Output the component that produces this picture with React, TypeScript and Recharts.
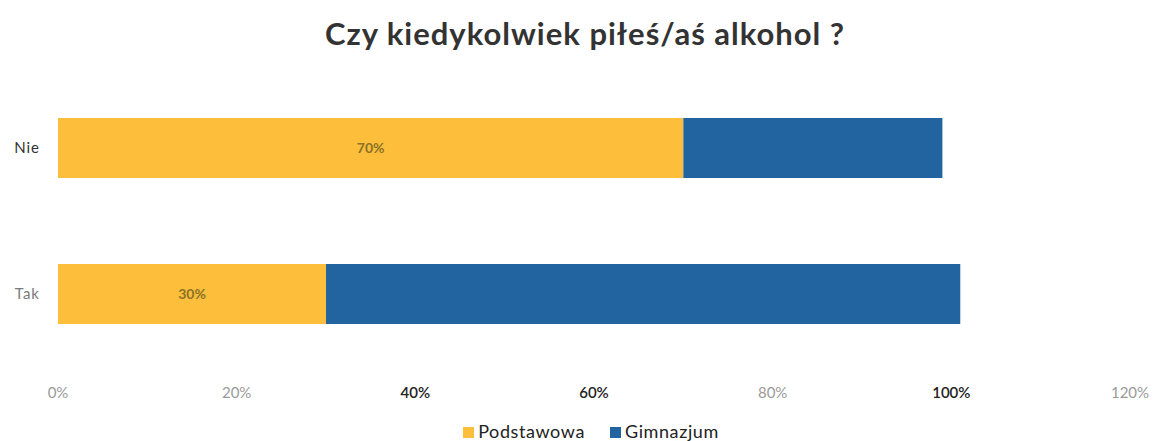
import { BarChart, Bar, XAxis, YAxis, Legend, LabelList } from "recharts"

const categories = ["Nie", "Tak"]
const podstawowa = [70, 30]
const gimnazjum = [29, 71]
const xTicks = [0, 20, 40, 60, 80, 100, 120]

const seriesNames = ["Podstawowa", "Gimnazjum"]
const seriesColors = ["#FDBE3B", "#22649F"]

// the scan renders some tick labels darker than others
const darkXTicks = [40, 60, 100]
const darkYTicks = ["Nie"]

const data = categories.map((name, i) => ({
  name,
  Podstawowa: podstawowa[i],
  Gimnazjum: gimnazjum[i],
}))

const FONT = "Lato, 'Open Sans', sans-serif"

function XTick(props: any) {
  const { x, y, payload } = props
  const dark = darkXTicks.includes(payload.value)
  return (
    <text
      x={x}
      y={y}
      dy={23}
      textAnchor="middle"
      fontFamily={FONT}
      fontSize={15}
      fontWeight={dark ? 600 : 400}
      fill={dark ? "#222" : "#9a9a9a"}
    >
      {`${payload.value}%`}
    </text>
  )
}

function YTick(props: any) {
  const { x, y, payload } = props
  const dark = darkYTicks.includes(payload.value)
  return (
    <text
      x={x}
      y={y}
      dx={-10}
      dy={5}
      textAnchor="end"
      fontFamily={FONT}
      fontSize={15}
      letterSpacing={1}
      fill={dark ? "#333" : "#7a7a7a"}
    >
      {payload.value}
    </text>
  )
}

function LegendContent() {
  return (
    <div style={{ display: "flex", justifyContent: "center", gap: 25, paddingLeft: 52 }}>
      {seriesNames.map((name, i) => (
        <div
          key={name}
          style={{ display: "flex", alignItems: "center", fontSize: 18, letterSpacing: 0.6, color: "#222" }}
        >
          <span
            style={{
              display: "inline-block",
              width: 11,
              height: 11,
              marginRight: 4,
              marginTop: 3,
              background: seriesColors[i],
            }}
          />
          {name}
        </div>
      ))}
    </div>
  )
}

export default function App() {
  return (
    <div
      style={{
        position: "absolute",
        left: 0,
        top: 0,
        width: 1158,
        height: 441,
        background: "#fff",
        fontFamily: FONT,
      }}
    >
      <div
        style={{
          position: "absolute",
          top: 14,
          left: 0,
          width: 1170,
          textAlign: "center",
          fontSize: 31,
          fontWeight: 700,
          letterSpacing: 1,
          color: "#333",
        }}
      >
        Czy kiedykolwiek piłeś/aś alkohol ?
      </div>
      <BarChart
        width={1158}
        height={441}
        data={data}
        layout="vertical"
        margin={{ top: 75, right: 28, left: 0, bottom: 0 }}
        barSize={60}
      >
        <XAxis
          type="number"
          domain={[0, 120]}
          ticks={xTicks}
          axisLine={false}
          tickLine={false}
          height={30}
          tick={<XTick />}
          interval={0}
        />
        <YAxis
          type="category"
          dataKey="name"
          width={58}
          axisLine={false}
          tickLine={false}
          tick={<YTick />}
        />
        <Legend
          verticalAlign="bottom"
          align="center"
          content={<LegendContent />}
          wrapperStyle={{ height: 44, boxSizing: "border-box", paddingTop: 23 }}
        />
        <Bar dataKey="Podstawowa" stackId="a" fill={seriesColors[0]} isAnimationActive={false}>
          <LabelList
            dataKey="Podstawowa"
            position="center"
            formatter={(v: any) => `${v}%`}
            fill="#8a7226"
            fontSize={14}
            fontWeight={700}
            fontFamily={FONT}
          />
        </Bar>
        <Bar dataKey="Gimnazjum" stackId="a" fill={seriesColors[1]} isAnimationActive={false} />
      </BarChart>
    </div>
  )
}
